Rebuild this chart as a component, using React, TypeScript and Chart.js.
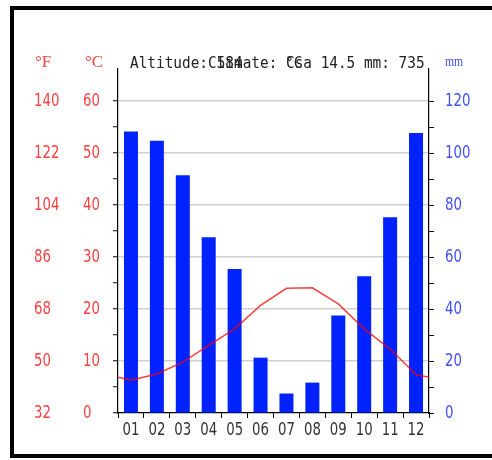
import React, { useEffect, useRef } from "react";
import { Chart, registerables } from "chart.js";

Chart.register(...registerables);

const months = ["01", "02", "03", "04", "05", "06", "07", "08", "09", "10", "11", "12"];
const precipMM = [108.3, 104.8, 91.5, 67.6, 55.4, 21.3, 7.5, 11.7, 37.5, 52.6, 75.3, 107.8];
const tempC = [6.3, 7.5, 9.8, 13.0, 16.2, 20.7, 24.0, 24.1, 21.0, 16.2, 12.3, 7.4];
const tempEdgeC = 6.9;
const celsiusTicks = [0, 10, 20, 30, 40, 50, 60];
const fahrenheitLabels = ["32", "50", "68", "86", "104", "122", "140"];
const mmTicks = [0, 20, 40, 60, 80, 100, 120];

const RED = "#ff4040";
const BLUE = "#4050ff";
const BAR = "#0022ff";
const LABEL_FONT = '18px "DejaVu Sans"';
const SX = 0.74;

const labelPlugin = {
  id: "condensedLabels",
  afterDraw(chart: any) {
    const ctx = chart.ctx as CanvasRenderingContext2D;
    const draw = (text: string, x: number, y: number, align: CanvasTextAlign, color: string) => {
      ctx.save();
      ctx.translate(x, y);
      ctx.scale(SX, 1);
      ctx.font = LABEL_FONT;
      ctx.fillStyle = color;
      ctx.textAlign = align;
      ctx.textBaseline = "middle";
      ctx.fillText(text, 0, 0);
      ctx.restore();
    };
    const yC = chart.scales.yC;
    const yMM = chart.scales.yMM;
    const x = chart.scales.x;
    celsiusTicks.forEach((v, i) => {
      const py = yC.getPixelForValue(v);
      draw(fahrenheitLabels[i], 34, py, "left", RED);
      draw(String(v), 83, py, "left", RED);
    });
    mmTicks.forEach((v) => draw(String(v), 445, yMM.getPixelForValue(v), "left", BLUE));
    months.forEach((m, i) => draw(m, x.getPixelForValue(i), 430, "center", "#333"));
  },
};

export default function App() {
  const ref = useRef<HTMLCanvasElement | null>(null);

  useEffect(() => {
    const canvas = ref.current;
    if (!canvas) return;
    const linePts = [
      { x: 0, y: tempEdgeC },
      ...tempC.map((t, i) => ({ x: i + 0.5, y: t })),
      { x: 12, y: tempEdgeC },
    ];
    const chart = new Chart(canvas, {
      type: "bar",
      data: {
        labels: months,
        datasets: [
          {
            type: "line",
            data: linePts as any,
            xAxisID: "xT",
            yAxisID: "yC",
            borderColor: "rgba(255,0,0,0.75)",
            borderWidth: 1.5,
            pointRadius: 0,
            tension: 0,
            order: 0,
          } as any,
          {
            type: "bar",
            data: precipMM,
            xAxisID: "x",
            yAxisID: "yMM",
            backgroundColor: BAR,
            borderWidth: 0,
            grouped: false,
            categoryPercentage: 1,
            barPercentage: 0.54,
            order: 1,
          },
        ],
      },
      options: {
        animation: false,
        responsive: false,
        layout: { padding: { left: 83, top: 69, right: 0, bottom: 0 } },
        plugins: { legend: { display: false }, tooltip: { enabled: false } },
        scales: {
          x: {
            type: "category",
            position: "bottom",
            offset: true,
            grid: {
              offset: true,
              drawOnChartArea: false,
              drawTicks: true,
              tickLength: 5,
              tickColor: "#000",
              tickWidth: 1,
            },
            border: { display: true, color: "#000", width: 1.2 },
            ticks: { display: false },
            afterFit: (s: any) => {
              s.height = 47;
            },
          },
          xT: {
            type: "linear",
            min: 0,
            max: 12,
            offset: false,
            display: false,
          },
          yC: {
            type: "linear",
            position: "left",
            min: 0,
            max: 66.2,
            afterBuildTicks: (s: any) => {
              s.ticks = s.ticks.filter((t: any) => t.value <= 60);
            },
            grid: {
              color: (c: any) =>
                c.tick && c.tick.value % 10 === 0 && c.tick.value !== 0 ? "#cfcfcf" : "rgba(0,0,0,0)",
              lineWidth: 1.5,
              tickColor: "#000",
              tickWidth: 1,
              tickLength: 5,
            },
            border: { display: true, color: "#000", width: 1.2 },
            ticks: { stepSize: 5, display: false, autoSkip: false },
            afterFit: (s: any) => {
              s.width = 35;
            },
          },
          yMM: {
            type: "linear",
            position: "right",
            min: 0,
            max: 132.4,
            afterBuildTicks: (s: any) => {
              s.ticks = s.ticks.filter((t: any) => t.value <= 120);
            },
            grid: {
              drawOnChartArea: false,
              tickColor: "#000",
              tickWidth: 1,
              tickLength: 5,
            },
            border: { display: true, color: "#000", width: 1.2 },
            ticks: { stepSize: 10, display: false, autoSkip: false },
            afterFit: (s: any) => {
              s.width = 63;
            },
          },
        },
      } as any,
      plugins: [labelPlugin],
    });
    return () => chart.destroy();
  }, []);

  const mono: React.CSSProperties = {
    position: "absolute",
    top: 55,
    fontFamily: "'DejaVu Sans Mono', monospace",
    fontSize: 14.4,
    lineHeight: "14.4px",
    color: "#222",
    whiteSpace: "pre",
    transform: "scaleY(1.12)",
    transformOrigin: "left top",
  };
  const head: React.CSSProperties = {
    position: "absolute",
    fontFamily: "'Liberation Serif', serif",
    fontSize: 17,
    lineHeight: "17px",
    whiteSpace: "pre",
  };

  return (
    <div style={{ position: "fixed", left: 0, top: 0, width: 492, height: 460, overflow: "hidden", background: "#fff" }}>
      <div
        style={{
          position: "absolute",
          left: 10,
          top: 6,
          width: 560,
          height: 452,
          boxSizing: "border-box",
          border: "4px solid #000",
        }}
      />
      <canvas ref={ref} width={492} height={460} style={{ position: "absolute", left: 0, top: 0 }} />
      <div style={{ ...mono, left: 130 }}>Altitude: 584</div>
      <div style={{ ...mono, left: 208 }}>Climate: Csa 14.5 mm: 735</div>
      <div style={{ ...mono, left: 285 }}>°C</div>
      <div style={{ ...head, left: 35, top: 53, color: RED }}>°F</div>
      <div style={{ ...head, left: 85, top: 53, color: RED }}>°C</div>
      <div
        style={{
          ...head,
          left: 445,
          top: 54,
          color: BLUE,
          fontSize: 15,
          lineHeight: "15px",
          transform: "scaleX(0.78)",
          transformOrigin: "left top",
        }}
      >
        mm
      </div>
    </div>
  );
}
